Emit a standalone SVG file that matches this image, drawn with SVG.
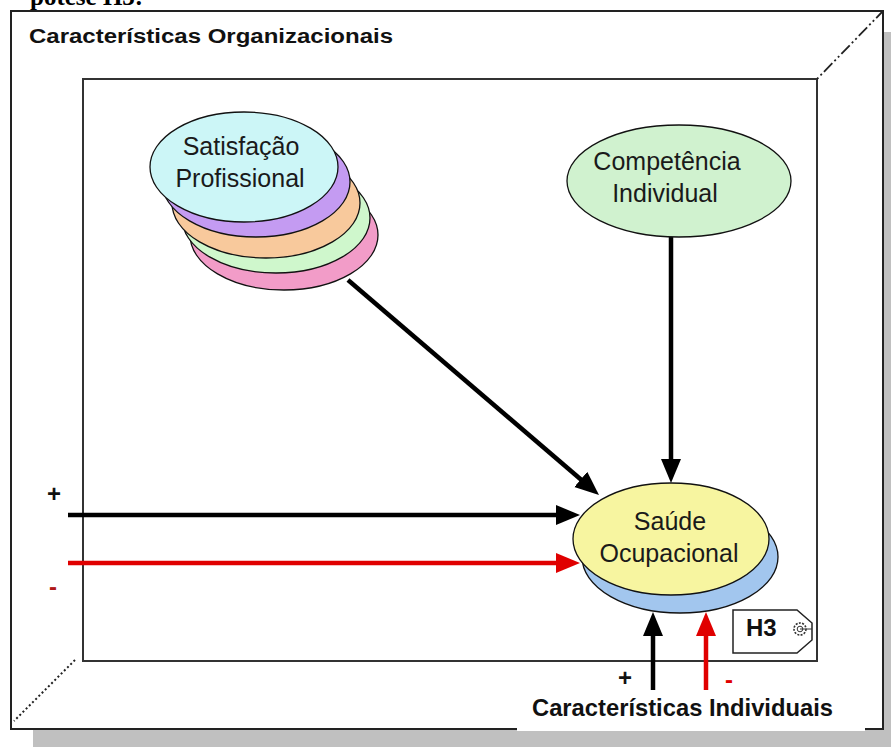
<svg xmlns="http://www.w3.org/2000/svg" width="891" height="747" viewBox="0 0 891 747">
  <style>
    .node-text { font-family: "Liberation Sans", Arial, sans-serif; font-size: 25px; fill: #1a1a1a; text-anchor: middle; }
    .bold { font-family: "Liberation Sans", Arial, sans-serif; font-weight: bold; fill: #111; }
    .ell { stroke: #111; stroke-width: 1.3; }
    .arrow-black { stroke: #000; stroke-width: 4.5; fill: none; }
    .arrow-red { stroke: #e00000; stroke-width: 4.5; fill: none; }
  </style>
  <defs>
    <marker id="ah-black" markerUnits="userSpaceOnUse" markerWidth="26" markerHeight="22" refX="14" refY="10" orient="auto">
      <path d="M0,0 L24,10 L0,20 z" fill="#000"/>
    </marker>
    <marker id="ah-red" markerUnits="userSpaceOnUse" markerWidth="26" markerHeight="22" refX="14" refY="10" orient="auto">
      <path d="M0,0 L24,10 L0,20 z" fill="#e00000"/>
    </marker>
  </defs>

  <rect x="0" y="0" width="891" height="747" fill="#ffffff"/>

  <!-- cropped heading above the figure -->
  <text x="30" y="5" font-family="'Liberation Serif', 'Times New Roman', serif" font-weight="bold" font-size="25" fill="#000">pótese H3:</text>

  <!-- frame -->
  <g id="frame">
    <rect x="33" y="729" width="858" height="18" fill="#c0c0c0"/>
    <rect x="883" y="32" width="8" height="715" fill="#c0c0c0"/>
    <rect x="11" y="11" width="872" height="718" fill="#ffffff" stroke="#222" stroke-width="2"/>
    <rect x="83" y="79" width="734" height="582" fill="#ffffff" stroke="#333" stroke-width="2"/>
    <line x1="817" y1="79" x2="883" y2="11" stroke="#222" stroke-width="1.8" stroke-dasharray="2,3,2,3,12,3"/>
    <line x1="75" y1="660" x2="14" y2="721" stroke="#222" stroke-width="2" stroke-dasharray="2,2.5"/>
    <text class="bold" x="29" y="43" font-size="20" textLength="364" lengthAdjust="spacingAndGlyphs">Características Organizacionais</text>
  </g>

  <!-- connectors -->
  <g id="connectors">
    <line class="arrow-black" x1="348" y1="280" x2="591.4" y2="488.5" marker-end="url(#ah-black)"/>
    <line class="arrow-black" x1="671" y1="237" x2="671" y2="473" marker-end="url(#ah-black)"/>
    <line class="arrow-black" x1="68" y1="515" x2="570" y2="515" marker-end="url(#ah-black)"/>
    <line class="arrow-red" x1="68" y1="563" x2="570" y2="563" marker-end="url(#ah-red)"/>
    <line class="arrow-black" x1="653" y1="690" x2="653" y2="622" marker-end="url(#ah-black)"/>
    <line class="arrow-red" x1="706" y1="690" x2="706" y2="622" marker-end="url(#ah-red)"/>
    <text class="bold" x="54" y="502" font-size="24" text-anchor="middle">+</text>
    <text x="53" y="595" font-family="'Liberation Sans', Arial, sans-serif" font-weight="bold" font-size="24" fill="#b01818" text-anchor="middle">-</text>
    <text class="bold" x="625" y="686" font-size="24" text-anchor="middle">+</text>
    <text x="729" y="688" font-family="'Liberation Sans', Arial, sans-serif" font-weight="bold" font-size="24" fill="#e00000" text-anchor="middle">-</text>
  </g>

  <!-- Satisfação Profissional (stack) -->
  <g id="satisfacao">
    <ellipse class="ell" cx="284" cy="235" rx="94" ry="55" fill="#f29cc8"/>
    <ellipse class="ell" cx="276" cy="218" rx="94" ry="55" fill="#cff7cc"/>
    <ellipse class="ell" cx="266" cy="203" rx="94" ry="55" fill="#f8c99c"/>
    <ellipse class="ell" cx="256" cy="182" rx="94" ry="55" fill="#c49bf2"/>
    <ellipse class="ell" cx="244" cy="167" rx="94" ry="55" fill="#ccf6f7"/>
    <text class="node-text" x="241" y="155">Satisfação</text>
    <text class="node-text" x="240" y="187">Profissional</text>
  </g>

  <!-- Competência Individual -->
  <g id="competencia">
    <ellipse class="ell" cx="679" cy="181" rx="112" ry="56" fill="#d0f2cf"/>
    <text class="node-text" x="667" y="170">Competência</text>
    <text class="node-text" x="665" y="202">Individual</text>
  </g>

  <!-- Saúde Ocupacional -->
  <g id="saude">
    <ellipse class="ell" cx="680" cy="557" rx="98" ry="56" fill="#a2c6ee"/>
    <ellipse class="ell" cx="671" cy="539" rx="98" ry="56" fill="#f7f5a0"/>
    <text class="node-text" x="670" y="530">Saúde</text>
    <text class="node-text" x="669" y="562">Ocupacional</text>
  </g>

  <!-- H3 tag -->
  <g id="h3-tag">
    <path d="M733,610 L797,610 L812,623 L812,640 L797,653 L733,653 z" fill="#ffffff" stroke="#222" stroke-width="1.5"/>
    <text class="bold" x="746" y="636" font-size="24">H3</text>
    <circle cx="800" cy="629" r="6" fill="none" stroke="#333" stroke-width="1.6" stroke-dasharray="2,1.3"/>
    <circle cx="800" cy="629" r="2.8" fill="none" stroke="#333" stroke-width="1"/>
    <line x1="800" y1="629" x2="812" y2="629" stroke="#333" stroke-width="1"/>
  </g>

  <!-- Características Individuais -->
  <g id="caracteristicas-individuais">
    <rect x="517" y="694" width="348" height="37" fill="#ffffff"/>
    <text class="bold" x="532" y="716" font-size="24" textLength="301" lengthAdjust="spacingAndGlyphs">Características Individuais</text>
  </g>
</svg>
